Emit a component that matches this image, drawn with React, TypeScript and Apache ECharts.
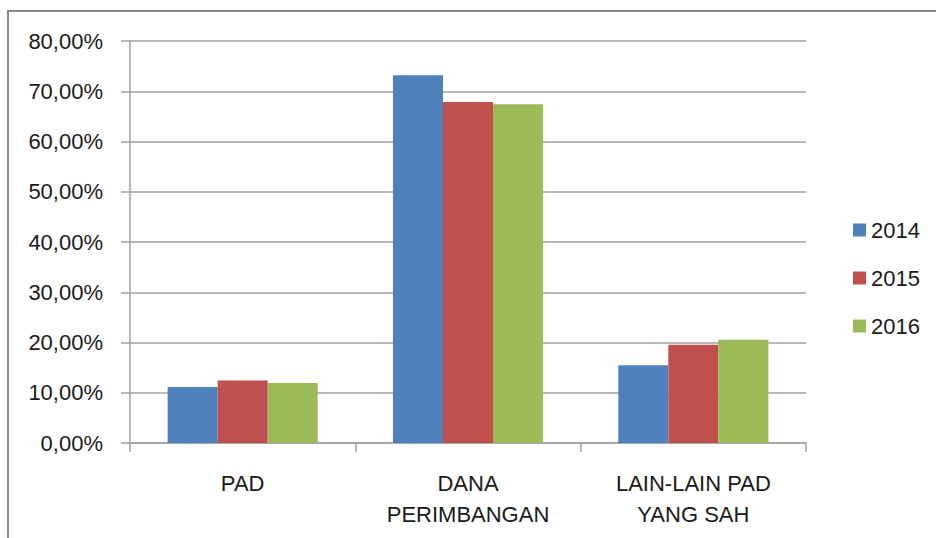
import React, { useEffect, useRef } from "react";
import * as echarts from "echarts";

const categories = ["PAD", "DANA\nPERIMBANGAN", "LAIN-LAIN PAD\nYANG SAH"];
const seriesNames = ["2014", "2015", "2016"];
const values2014 = [11.15, 73.2, 15.45];
const values2015 = [12.45, 67.85, 19.55];
const values2016 = [11.95, 67.4, 20.55];
const colors = ["#4F81BD", "#C0504D", "#9BBB59"];

const FONT = "Liberation Sans";

export default function App() {
  const ref = useRef<HTMLDivElement>(null);
  useEffect(() => {
    if (!ref.current) return;
    const chart = echarts.init(ref.current, undefined, { renderer: "svg" });
    const data = [values2014, values2015, values2016];
    chart.setOption({
      animation: false,
      backgroundColor: "#ffffff",
      textStyle: { fontFamily: FONT },
      graphic: [
        {
          type: "rect",
          shape: { x: 8, y: 11, width: 1000, height: 700 },
          style: { fill: "none", stroke: "#8a8a8a", lineWidth: 2 },
          silent: true,
          z: -1,
        },
      ],
      grid: { left: 130, right: 130, top: 41, bottom: 95, containLabel: false },
      legend: {
        orient: "vertical",
        left: 848,
        top: 214,
        itemWidth: 13,
        itemHeight: 13,
        itemGap: 26,
        icon: "rect",
        textStyle: { fontFamily: FONT, fontSize: 22, color: "#1a1a1a" },
        data: seriesNames,
      },
      xAxis: {
        type: "category",
        data: categories,
        axisLine: { show: true, lineStyle: { color: "#a0a0a0", width: 1.5 } },
        axisTick: { show: true, length: 9, lineStyle: { color: "#a0a0a0", width: 1.5 } },
        axisLabel: {
          fontFamily: FONT,
          fontSize: 22,
          color: "#1a1a1a",
          margin: 25,
          lineHeight: 31,
          interval: 0,
        },
      },
      yAxis: {
        type: "value",
        min: 0,
        max: 80,
        interval: 10,
        axisLine: { show: true, lineStyle: { color: "#a0a0a0", width: 1.5 } },
        axisTick: { show: true, length: 9, lineStyle: { color: "#a0a0a0", width: 1.5 } },
        splitLine: { show: true, lineStyle: { color: "#a0a0a0", width: 1.5 } },
        axisLabel: {
          fontFamily: FONT,
          fontSize: 22,
          color: "#1a1a1a",
          margin: 27,
          formatter: (v: number) => v.toFixed(2).replace(".", ",") + "%",
        },
      },
      series: seriesNames.map((name, i) => ({
        name,
        type: "bar",
        data: data[i],
        barGap: "0%",
        barCategoryGap: "33.4%",
        itemStyle: { color: colors[i] },
      })),
    });
    return () => chart.dispose();
  }, []);
  return <div ref={ref} style={{ width: 936, height: 538, position: "absolute", left: 0, top: 0 }} />;
}
